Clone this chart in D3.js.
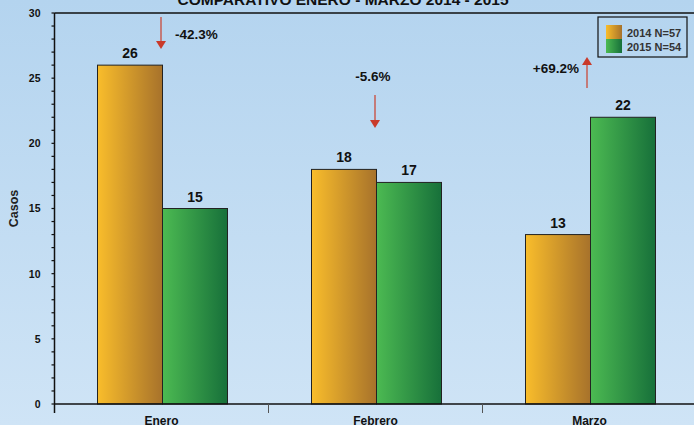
<!DOCTYPE html>
<html>
<head>
<meta charset="utf-8">
<script src="https://cdn.jsdelivr.net/npm/d3@7"></script>
<style>
  html, body { margin: 0; padding: 0; overflow: hidden; }
  svg { display: block; font-family: "Liberation Sans", Arial, sans-serif; }
</style>
</head>
<body>
<svg id="chart" width="694" height="425"></svg>
<script>
var months = ["Enero", "Febrero", "Marzo"];
var years = ["2014", "2015"];
var values2014 = [26, 18, 13];
var values2015 = [15, 17, 22];
var legendLabels = ["2014 N=57", "2015 N=54"];
var changeLabels = ["-42.3%", "-5.6%", "+69.2%"];
var yTicks = [0, 5, 10, 15, 20, 25, 30];

var svg = d3.select("#chart");
var W = 694, H = 425;

var defs = svg.append("defs");
var bg = defs.append("linearGradient").attr("id", "bg").attr("x1", 0).attr("y1", 0).attr("x2", 0).attr("y2", 1);
bg.append("stop").attr("offset", "0%").attr("stop-color", "#b4d4ef");
bg.append("stop").attr("offset", "100%").attr("stop-color", "#cfe4f6");

var gOrange = defs.append("linearGradient").attr("id", "g2014");
gOrange.append("stop").attr("offset", "0%").attr("stop-color", "#f9bd2b");
gOrange.append("stop").attr("offset", "100%").attr("stop-color", "#a7722b");
var gGreen = defs.append("linearGradient").attr("id", "g2015");
gGreen.append("stop").attr("offset", "0%").attr("stop-color", "#4cba52");
gGreen.append("stop").attr("offset", "100%").attr("stop-color", "#17703a");

svg.append("rect").attr("width", W).attr("height", H).attr("fill", "url(#bg)");

var plotLeft = 54.5, plotTop = 13, plotBottom = 404;

var x = d3.scaleBand().domain(months).range([plotLeft, plotLeft + 642]).padding(0);
var x1 = d3.scaleBand().domain(years).range([43, 173]).padding(0);
var y = d3.scaleLinear().domain([0, 30]).range([plotBottom, plotTop]);

// title (cut by the top edge as in the original)
svg.append("text").attr("x", 343).attr("y", 4.5).attr("text-anchor", "middle")
  .attr("font-size", 15.5).attr("font-weight", "bold").attr("fill", "#111")
  .text("COMPARATIVO ENERO - MARZO 2014 - 2015");

// top frame line
svg.append("line").attr("x1", plotLeft).attr("x2", W).attr("y1", y(30)).attr("y2", y(30))
  .attr("stroke", "#111").attr("stroke-width", 1.5);

// bars
var rows = months.map(function (m, i) {
  return { month: m, vals: [values2014[i], values2015[i]] };
});
var grp = svg.selectAll(".month").data(rows).enter().append("g")
  .attr("transform", function (d) { return "translate(" + x(d.month) + ",0)"; });

function pairs(d) {
  return d.vals.map(function (v, j) { return { year: years[j], v: v }; });
}

grp.selectAll("rect").data(pairs).enter().append("rect")
  .attr("x", function (d) { return x1(d.year); })
  .attr("y", function (d) { return y(d.v); })
  .attr("width", x1.bandwidth())
  .attr("height", function (d) { return plotBottom - y(d.v); })
  .attr("fill", function (d) { return "url(#g" + d.year + ")"; })
  .attr("stroke", "#222").attr("stroke-width", 1);

grp.selectAll("text.val").data(pairs).enter().append("text").attr("class", "val")
  .attr("x", function (d) { return x1(d.year) + x1.bandwidth() / 2; })
  .attr("y", function (d) { return y(d.v) - 7; })
  .attr("text-anchor", "middle").attr("font-size", 14).attr("font-weight", "bold").attr("fill", "#111")
  .text(function (d) { return d.v; });

// y axis
var yAxis = d3.axisLeft(y).tickValues(yTicks).tickSize(0).tickPadding(14);
var ya = svg.append("g").attr("transform", "translate(" + plotLeft + ",0)").call(yAxis);
ya.select(".domain").remove();
ya.selectAll("text").attr("font-size", 10.5).attr("font-weight", "bold").attr("fill", "#111")
  .attr("font-family", "'Liberation Sans', Arial, sans-serif");
svg.append("line").attr("x1", plotLeft).attr("x2", plotLeft).attr("y1", y(30)).attr("y2", plotBottom + 9)
  .attr("stroke", "#111").attr("stroke-width", 1.5);
var minor = d3.range(0, 31);
svg.selectAll(".minor").data(minor).enter().append("line")
  .attr("x1", plotLeft - 3).attr("x2", plotLeft)
  .attr("y1", function (d) { return y(d); }).attr("y2", function (d) { return y(d); })
  .attr("stroke", "#111").attr("stroke-width", 1.2);

svg.append("text").attr("transform", "translate(18," + ((plotTop + plotBottom) / 2) + ") rotate(-90)")
  .attr("text-anchor", "middle").attr("font-size", 12.5).attr("font-weight", "bold").attr("fill", "#222")
  .text("Casos");

// x axis
svg.append("line").attr("x1", plotLeft).attr("x2", W).attr("y1", plotBottom).attr("y2", plotBottom)
  .attr("stroke", "#111").attr("stroke-width", 1.5);
svg.selectAll(".xtick").data(months.slice(1)).enter().append("line")
  .attr("x1", function (d) { return x(d); }).attr("x2", function (d) { return x(d); })
  .attr("y1", plotBottom).attr("y2", plotBottom + 9).attr("stroke", "#555").attr("stroke-width", 1);
svg.selectAll(".xlab").data(months).enter().append("text")
  .attr("x", function (d) { return x(d) + x.bandwidth() / 2; })
  .attr("y", 424.5).attr("text-anchor", "middle").attr("font-size", 12).attr("font-weight", "bold").attr("fill", "#111")
  .text(function (d) { return d; });

// change arrows: [x, tail y, head base y, tip y]
var arrowGeom = [[161, 17, 41, 49], [375, 95, 120, 128], [587, 88, 65, 57]];
arrowGeom.forEach(function (a) {
  var ax = a[0];
  svg.append("line").attr("x1", ax).attr("x2", ax).attr("y1", a[1]).attr("y2", a[2])
    .attr("stroke", "#c94a3a").attr("stroke-width", 1.3);
  svg.append("path").attr("d", "M" + (ax - 5) + "," + a[2] + "L" + (ax + 5) + "," + a[2] + "L" + ax + "," + a[3] + "Z")
    .attr("fill", "#c93a2a");
});
var labelPos = [[175, 39, "start"], [373, 81, "middle"], [579, 73, "end"]];
svg.selectAll(".chg").data(changeLabels).enter().append("text")
  .attr("x", function (d, i) { return labelPos[i][0]; })
  .attr("y", function (d, i) { return labelPos[i][1]; })
  .attr("text-anchor", function (d, i) { return labelPos[i][2]; })
  .attr("font-size", 13.5).attr("font-weight", "bold").attr("fill", "#111")
  .text(function (d) { return d; });

// legend
var lg = svg.append("g").attr("transform", "translate(598,17)");
lg.append("rect").attr("width", 89).attr("height", 40).attr("fill", "none")
  .attr("stroke", "#111").attr("stroke-width", 1.2);
lg.selectAll(".sw").data(years).enter().append("rect")
  .attr("x", 8).attr("y", function (d, i) { return 8 + i * 14; })
  .attr("width", 16).attr("height", 14)
  .attr("fill", function (d) { return "url(#g" + d + ")"; });
lg.selectAll(".lt").data(legendLabels).enter().append("text")
  .attr("x", 29).attr("y", function (d, i) { return 19.5 + i * 14; })
  .attr("font-size", 11).attr("font-weight", "bold").attr("fill", "#333")
  .text(function (d) { return d; });
</script>
</body>
</html>
